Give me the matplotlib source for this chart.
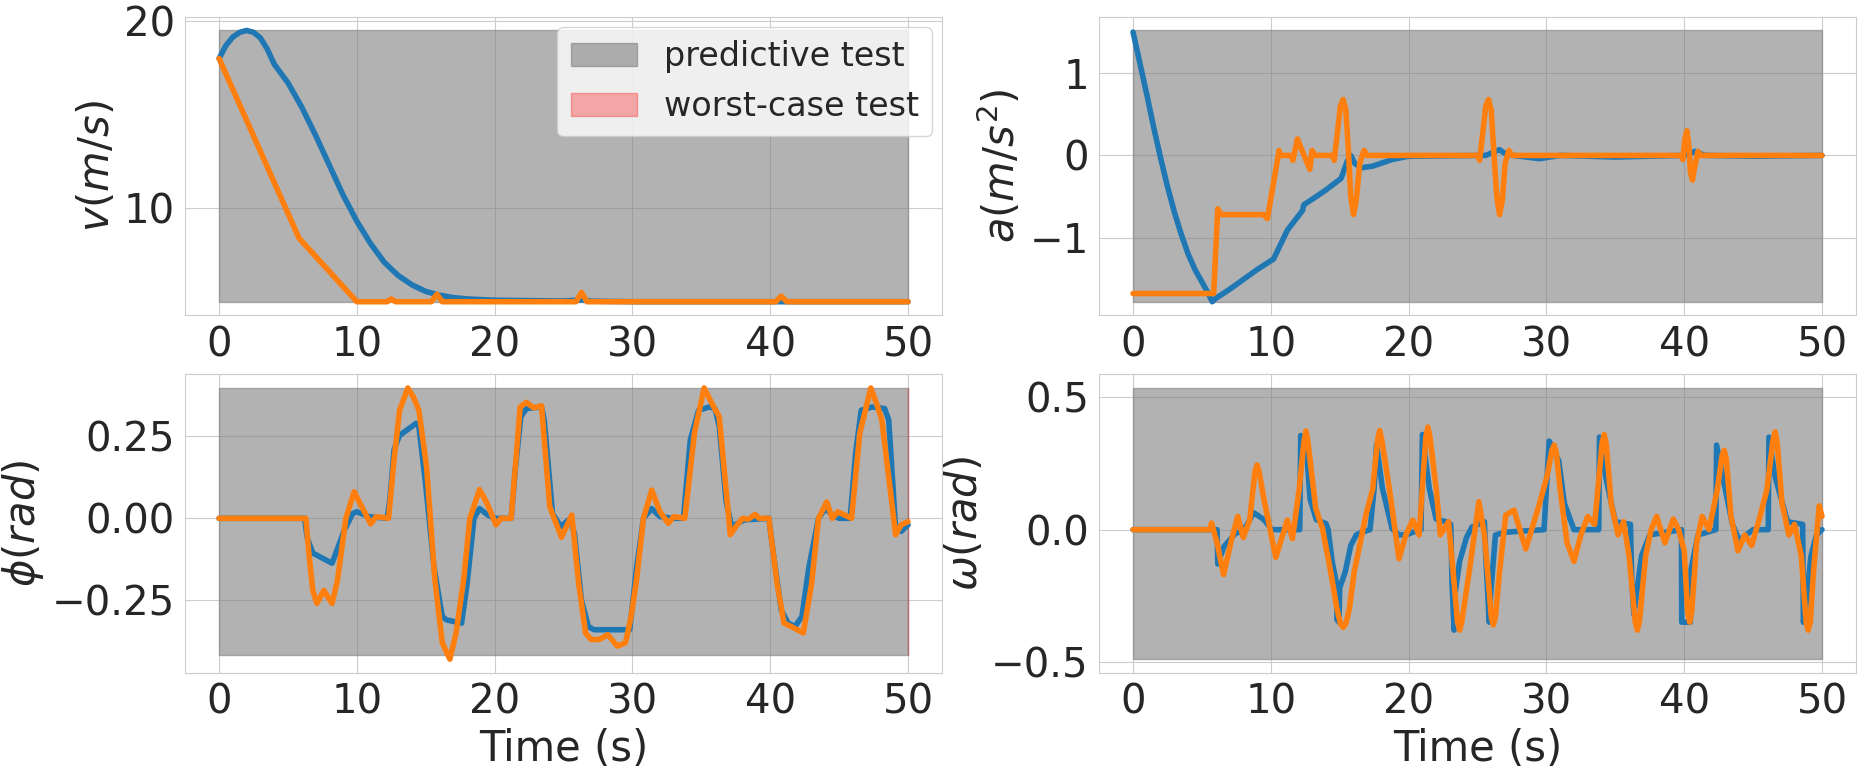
import numpy as np
import matplotlib
matplotlib.use("Agg")
import matplotlib.pyplot as plt
from matplotlib.patches import Patch
import seaborn as sns

# ---------------- data ----------------
x_ticks = [0, 10, 20, 30, 40, 50]
x_ticklabels = ["0", "10", "20", "30", "40", "50"]

# predictive-test band (time span and bounds per panel)
band_t = [0.0, 50.0]
v_band = [5.0, 19.5]
a_band = [-1.78, 1.52]
phi_band = [-0.418, 0.398]
omega_band = [-0.49, 0.536]
# worst-case band (visible only as a sliver at t=50 in phi panel)
worst_t = [49.97, 50.0]
worst_phi_band = [-0.418, 0.398]

# speed v
v_blue_t = [0, 0.5, 1, 1.5, 2, 2.5, 3, 3.5, 4, 5, 6, 7, 8, 9, 10, 11, 12, 13, 14, 15, 16, 17, 18,
            20, 25, 26.3, 27, 30, 40, 50]
v_blue = [18.0, 18.7, 19.15, 19.4, 19.5, 19.4, 19.1, 18.5, 17.7, 16.7, 15.4, 13.9, 12.3, 10.7,
          9.3, 8.1, 7.1, 6.4, 5.9, 5.55, 5.35, 5.22, 5.15, 5.08, 5.04, 5.1, 5.03, 5.0, 5.0, 5.0]
v_orange_t = [0, 5.8, 10.0, 12.2, 12.5, 12.8, 15.4, 15.8, 16.2, 25.9, 26.3, 26.7, 40.4, 40.8, 41.2, 50]
v_orange = [18.0, 8.4, 5.0, 5.0, 5.15, 5.0, 5.0, 5.4, 5.0, 5.0, 5.5, 5.0, 5.0, 5.3, 5.0, 5.0]

# acceleration a
a_blue_t = [0, 0.5, 1, 1.5, 2, 2.5, 3, 3.5, 4, 4.5, 5, 5.4, 5.75, 6, 7, 8, 9, 10.2, 11.2, 12.3,
            12.4, 13.3, 14.0, 15.1, 15.55, 15.8, 16.1, 16.6, 17.4, 18.8, 20, 25.6, 26.6, 27.1,
            29.5, 31, 35, 40, 40.8, 41.5, 45, 50]
a_blue = [1.5, 1.12, 0.74, 0.34, -0.03, -0.38, -0.69, -0.96, -1.2, -1.39, -1.54, -1.66, -1.78,
          -1.74, -1.63, -1.51, -1.39, -1.26, -0.91, -0.67, -0.6, -0.5, -0.42, -0.28, -0.07, 0.0,
          -0.1, -0.15, -0.13, -0.05, -0.01, 0.0, 0.07, 0.01, -0.04, 0.0, -0.02, 0.0, 0.05, 0.0,
          -0.01, 0.0]
a_orange_t = [0, 5.85, 6.15, 6.4, 9.5, 9.75, 10.6, 10.7, 11.45, 11.6, 11.93, 12.83, 13.0, 13.2,
              14.47, 14.6, 14.85, 15.05, 15.25, 15.45, 15.65, 15.8, 16.0, 16.2, 16.45, 16.76, 17.0,
              25.0, 25.15, 25.4, 25.6, 25.8, 26.0, 26.2, 26.4, 26.6, 26.8, 27.0, 27.27, 27.5,
              39.8, 39.9, 40.05, 40.2, 40.35, 40.45, 40.6, 40.75, 41.0, 41.2, 50]
a_orange = [-1.68, -1.68, -0.65, -0.72, -0.72, -0.77, 0.06, 0.0, 0.0, -0.06, 0.2, -0.17, 0.06, 0.0,
            0.0, -0.06, 0.3, 0.6, 0.68, 0.55, 0.0, -0.5, -0.72, -0.55, -0.1, 0.06, 0.0,
            0.0, -0.06, 0.3, 0.6, 0.68, 0.55, 0.0, -0.5, -0.72, -0.55, -0.1, 0.06, 0.0,
            0.0, -0.05, 0.2, 0.3, 0.1, -0.2, -0.3, -0.15, 0.05, 0.0, 0.0]

# heading phi
phi_blue_t = [0, 6.2, 6.4, 6.8, 8.2, 9.1, 9.7, 10.0, 10.9, 12.2, 12.4, 12.7, 13.1, 14.3, 14.5,
              15.0, 15.6, 16.2, 16.5, 17.6, 18.0, 18.5, 18.9, 19.5, 20.0, 21.2, 21.5, 21.9, 22.3,
              23.4, 23.6, 24.2, 24.8, 25.5, 25.8, 26.3, 26.8, 27.2, 29.8, 30.3, 30.8, 31.4, 32.0,
              33.0, 33.7, 34.2, 34.8, 35.6, 36.0, 36.3, 36.8, 37.2, 38.1, 39.9, 40.2, 40.8, 41.3,
              41.8, 42.3, 42.8, 43.5, 44.0, 44.5, 45.0, 45.8, 46.2, 46.6, 47.4, 48.3, 48.6, 49.1,
              49.5, 50]
phi_blue = [0, 0, -0.06, -0.106, -0.137, -0.035, 0.015, 0.02, 0.005, 0.0, 0.06, 0.21, 0.253, 0.29,
            0.28, 0.1, -0.15, -0.3, -0.31, -0.32, -0.2, 0.0, 0.03, 0.01, 0.0, 0.0, 0.15, 0.31,
            0.335, 0.34, 0.3, 0.015, -0.025, 0.0, -0.05, -0.25, -0.33, -0.34, -0.34, -0.15, 0.0,
            0.03, 0.005, 0.0, 0.0, 0.24, 0.33, 0.34, 0.334, 0.28, 0.05, -0.025, -0.005, 0.0, -0.1,
            -0.28, -0.32, -0.33, -0.3, -0.15, 0.0, 0.03, 0.01, 0.0, 0.0, 0.2, 0.33, 0.34, 0.335,
            0.3, -0.03, -0.04, -0.02]
phi_orange_t = [0, 6.3, 6.5, 6.8, 7.1, 7.6, 8.2, 8.6, 9.2, 9.8, 10.3, 11.0, 11.4, 12.3, 12.7, 13.1,
                13.7, 14.1, 14.5, 15.06, 15.66, 16.2, 16.75, 17.2, 17.75, 18.2, 18.9, 19.4, 20.1,
                20.45, 21.2, 21.85, 22.3, 22.85, 23.4, 24.0, 24.85, 25.6, 26.1, 26.6, 27.0, 27.6,
                28.2, 28.9, 29.5, 29.9, 30.3, 30.8, 31.4, 32.0, 32.6, 33.0, 33.8, 34.5, 35.2, 35.9,
                36.3, 37.1, 37.6, 38.0, 38.4, 38.9, 39.2, 39.9, 40.5, 41.0, 41.5, 42.4, 43.0, 43.5,
                44.1, 44.5, 44.9, 45.9, 46.5, 47.3, 47.8, 48.1, 49.1, 49.5, 50]
phi_orange = [0, 0, -0.1, -0.22, -0.26, -0.22, -0.26, -0.187, 0.0, 0.081, 0.04, -0.017, 0.005, 0.0,
              0.18, 0.33, 0.398, 0.37, 0.33, 0.157, -0.187, -0.38, -0.43, -0.35, -0.187, 0.0, 0.088,
              0.05, -0.02, 0.0, 0.0, 0.34, 0.354, 0.337, 0.344, 0.035, -0.058, 0.01, -0.2, -0.35,
              -0.37, -0.37, -0.355, -0.39, -0.38, -0.3, -0.187, 0.0, 0.086, 0.02, -0.015, 0.005,
              0.0, 0.26, 0.398, 0.34, 0.31, -0.05, -0.02, 0.0, -0.003, 0.012, 0.0, 0.0, -0.2, -0.32,
              -0.33, -0.35, -0.2, 0.0, 0.05, 0.0, 0.02, 0.0, 0.26, 0.398, 0.34, 0.3, -0.05, -0.02,
              -0.01]

# angular rate omega
om_blue_t = [0, 6.1, 6.15, 6.6, 7.45, 8.0, 8.76, 9.5, 10.07, 12.1, 12.17, 12.55, 12.85, 13.3, 14.0,
             14.16, 14.45, 14.75, 14.8, 14.95, 15.0, 15.4, 15.8, 16.2, 16.6, 17.2, 17.5, 17.67,
             18.1, 18.8, 19.3, 19.8, 20.3, 20.9, 21.0, 21.5, 22.0, 22.7, 23.06, 23.15, 23.3, 23.35,
             23.7, 24.2, 24.6, 25.5, 25.6, 25.85, 25.95, 26.3, 27.0, 29.83, 30.2, 30.9, 31.3, 32.0,
             33.8, 33.85, 34.3, 35.0, 36.1, 36.2, 36.35, 36.9, 37.5, 39.8, 39.82, 40.45, 40.5, 41.0,
             42.3, 42.35, 42.8, 43.5, 44.0, 45.0, 46.1, 46.15, 46.6, 47.5, 48.6, 48.65, 48.8, 49.2,
             49.6, 50]
om_blue = [0, 0, -0.13, -0.064, -0.013, -0.006, 0.064, 0.038, 0.0, 0.0, 0.356, 0.33, 0.115, 0.038,
           0.023, 0.0, -0.12, -0.2, -0.34, -0.35, -0.22, -0.16, -0.06, -0.02, -0.01, 0.0, 0.156,
           0.32, 0.156, 0.004, -0.02, -0.02, -0.01, 0.0, 0.36, 0.156, 0.04, 0.03, 0.02, -0.2, -0.38,
           -0.25, -0.12, -0.03, 0.01, 0.03, -0.1, -0.35, -0.25, -0.02, -0.01, 0.0, 0.335, 0.26, 0.1,
           0.0, 0.0, 0.35, 0.2, 0.03, 0.02, -0.2, -0.32, -0.1, -0.02, 0.0, -0.35, -0.35, -0.15,
           -0.02, 0.0, 0.32, 0.2, 0.02, -0.04, 0.0, 0.0, 0.35, 0.2, 0.03, 0.02, -0.35, -0.3, -0.1,
           -0.02, 0.0]
om_orange_t = [0, 5.55, 5.7, 6.1, 6.57, 7.15, 7.6, 8.0, 8.47, 8.85, 9.0, 9.15, 9.5, 10.36, 11.2,
               11.57, 12.05, 12.4, 12.55, 12.7, 13.26, 13.75, 14.35, 14.8, 15.05, 15.25, 15.45,
               15.7, 16.05, 16.9, 17.4, 17.75, 17.9, 18.05, 18.6, 19.3, 19.8, 20.3, 20.76, 21.25,
               21.4, 21.55, 22.0, 22.3, 22.9, 23.3, 23.55, 23.7, 23.85, 24.4, 25.1, 25.5, 25.8,
               26.0, 26.15, 26.3, 26.6, 27.05, 27.65, 28.5, 29.47, 30.07, 30.4, 30.56, 30.72, 31.0,
               31.5, 32.0, 32.5, 33.0, 33.5, 34.05, 34.2, 34.35, 34.7, 35.2, 35.6, 36.0, 36.45,
               36.6, 36.75, 37.2, 37.6, 38.0, 38.6, 39.2, 39.6, 40.0, 40.25, 40.4, 40.55, 40.9,
               41.3, 41.8, 42.4, 42.75, 42.9, 43.05, 43.4, 43.9, 44.4, 44.9, 45.5, 46.0, 46.45,
               46.6, 46.75, 47.1, 47.6, 48.0, 48.5, 48.85, 49.0, 49.15, 49.4, 49.8, 50.0]
om_orange = [0, 0, 0.025, -0.05, -0.17, -0.038, 0.05, -0.03, 0.038, 0.22, 0.245, 0.22, 0.115,
             -0.105, 0.036, -0.034, 0.15, 0.33, 0.373, 0.33, 0.08, 0.004, -0.16, -0.3, -0.355,
             -0.37, -0.355, -0.3, -0.16, 0.055, 0.156, 0.34, 0.375, 0.34, 0.156, -0.11, -0.02,
             0.036, -0.02, 0.35, 0.388, 0.35, 0.156, -0.02, 0.03, -0.2, -0.35, -0.38, -0.35, -0.16,
             0.106, -0.02, -0.2, -0.33, -0.36, -0.33, -0.16, 0.055, 0.074, -0.073, 0.093, 0.207,
             0.3, 0.32, 0.29, 0.15, -0.05, -0.12, -0.02, 0.05, 0.02, 0.33, 0.36, 0.32, 0.1, -0.02,
             0.03, -0.1, -0.35, -0.38, -0.35, -0.1, 0.0, 0.05, -0.05, 0.04, 0.0, -0.08, -0.31,
             -0.35, -0.31, -0.05, 0.05, 0.0, 0.15, 0.28, 0.3, 0.27, 0.05, -0.08, -0.02, -0.06, 0.05,
             0.15, 0.34, 0.37, 0.33, 0.1, -0.02, 0.02, -0.1, -0.35, -0.38, -0.35, -0.15, 0.09, 0.05]

# tick definitions and labels
v_ticks = [10, 20]
v_ticklabels = ["10", "20"]
a_ticks = [-1, 0, 1]
a_ticklabels = ["\u22121", "0", "1"]
phi_ticks = [-0.25, 0.0, 0.25]
phi_ticklabels = ["\u22120.25", "0.00", "0.25"]
om_ticks = [-0.5, 0.0, 0.5]
om_ticklabels = ["\u22120.5", "0.0", "0.5"]

legend_labels = ["predictive test", "worst-case test"]

# ---------------- plotting ----------------
sns.set_style("whitegrid")
plt.rcParams['font.family'] = ['DejaVu Sans']

TICK_FS = 29
LAB_FS = 30
LW = 4
BLUE = "#1f77b4"
ORANGE = "#ff7f0e"
BAND_KW = dict(color="gray", alpha=0.6)
WORST_KW = dict(color="red", alpha=0.3)

fig, axes = plt.subplots(2, 2, figsize=(18.65, 7.68), dpi=100)
fig.subplots_adjust(left=0.099, right=0.9954, top=0.978, bottom=0.124,
                    wspace=0.206, hspace=0.198)

panels = [
    (axes[0, 0], v_band, v_blue_t, v_blue, v_orange_t, v_orange, r"$v(m/s)$", v_ticks, v_ticklabels),
    (axes[0, 1], a_band, a_blue_t, a_blue, a_orange_t, a_orange, r"$a(m/s^2)$", a_ticks, a_ticklabels),
    (axes[1, 0], phi_band, phi_blue_t, phi_blue, phi_orange_t, phi_orange, r"$\phi(rad)$", phi_ticks, phi_ticklabels),
    (axes[1, 1], omega_band, om_blue_t, om_blue, om_orange_t, om_orange, r"$\omega(rad)$", om_ticks, om_ticklabels),
]

for ax, band, bt, by, ot, oy, ylab, yt, ytl in panels:
    ax.fill_between(band_t, [band[0]] * 2, [band[1]] * 2, **BAND_KW)
    ax.plot(bt, by, color=BLUE, lw=LW)
    ax.plot(ot, oy, color=ORANGE, lw=LW)
    ax.set_ylabel(ylab, fontsize=LAB_FS)
    ax.set_xticks(x_ticks)
    ax.set_xticklabels(x_ticklabels, fontsize=TICK_FS)
    ax.set_yticks(yt)
    ax.set_yticklabels(ytl, fontsize=TICK_FS)

axes[1, 0].fill_between(worst_t, [worst_phi_band[0]] * 2, [worst_phi_band[1]] * 2, **WORST_KW)

axes[1, 0].set_xlabel("Time (s)", fontsize=LAB_FS)
axes[1, 1].set_xlabel("Time (s)", fontsize=LAB_FS)

handles = [Patch(facecolor="gray", edgecolor="gray", alpha=0.6),
           Patch(facecolor="red", edgecolor="red", alpha=0.3)]
axes[0, 0].legend(handles, legend_labels, loc="upper right", fontsize=24, borderaxespad=0.3)

fig.savefig("out.png", dpi=100)
